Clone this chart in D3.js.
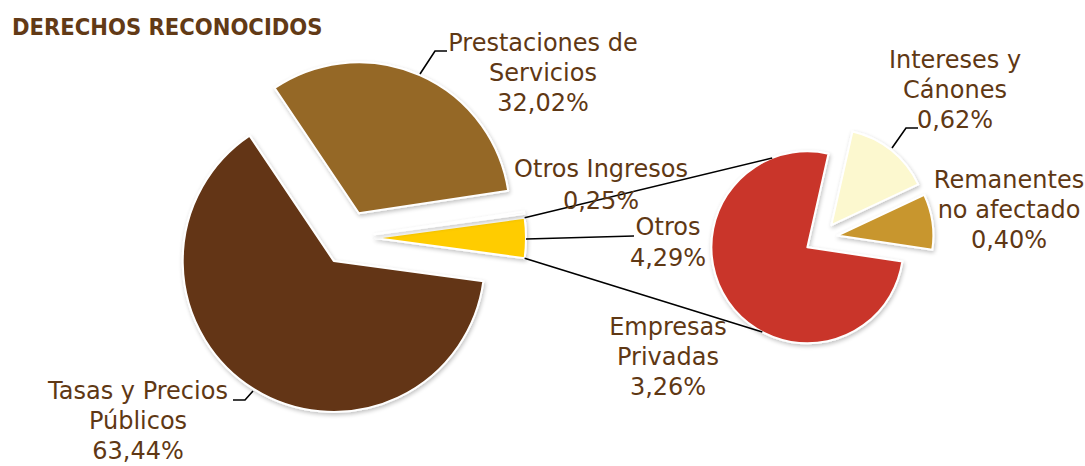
<!DOCTYPE html>
<html>
<head>
<meta charset="utf-8">
<script src="https://cdn.jsdelivr.net/npm/d3@7"></script>
<style>
  body { margin: 0; background: #fff; }
  svg { display: block; }
  text { font-family: 'DejaVu Sans', sans-serif; fill: #5f3814; }
</style>
</head>
<body>
<script>
// Main pie: order is clockwise starting at the "Otros" slice (which is broken out)
var mainNames = ['Otros', 'Tasas y Precios Públicos', 'Prestaciones de Servicios', 'Otros Ingresos'];
var mainValues = [4.29, 63.44, 32.02, 0.25];
var mainColors = ['#ffcc00', '#633514', '#956828', '#f1efee'];

// Secondary pie: breakdown of "Otros"
var subNames = ['Empresas Privadas', 'Intereses y Cánones', 'Remanentes no afectado'];
var subValues = [3.26, 0.62, 0.40];
var subColors = ['#c93629', '#fcf8cf', '#c8962e'];

// Label text, line by line
var labelLines = {
    'Prestaciones de Servicios': ['Prestaciones de', 'Servicios', '32,02%'],
    'Tasas y Precios Públicos': ['Tasas y Precios', 'Públicos', '63,44%'],
    'Otros Ingresos': ['Otros Ingresos', '0,25%'],
    'Otros': ['Otros', '4,29%'],
    'Empresas Privadas': ['Empresas', 'Privadas', '3,26%'],
    'Intereses y Cánones': ['Intereses y', 'Cánones', '0,62%'],
    'Remanentes no afectado': ['Remanentes', 'no afectado', '0,40%']
};

var width = 1085, height = 466;
var rad = Math.PI / 180;

var svg = d3.select('body')
  .append('svg')
    .attr('width', width)
    .attr('height', height);

// soft drop shadow under the slices
var shadow = svg.append('defs')
  .append('filter')
    .attr('id', 'shadow')
    .attr('x', '-20%').attr('y', '-20%')
    .attr('width', '140%').attr('height', '140%');
shadow.append('feGaussianBlur')
    .attr('in', 'SourceAlpha')
    .attr('stdDeviation', 2.2);
shadow.append('feOffset').attr('dx', 1).attr('dy', 1.5);
shadow.append('feComponentTransfer')
  .append('feFuncA').attr('type', 'linear').attr('slope', 0.25);
var merge = shadow.append('feMerge');
merge.append('feMergeNode');
merge.append('feMergeNode').attr('in', 'SourceGraphic');

svg.append('text')
    .attr('x', 12)
    .attr('y', 35)
    .attr('font-size', 23.5)
    .attr('font-weight', 'bold')
    .style('font-family', "'DejaVu Sans Condensed', 'DejaVu Sans', sans-serif")
    .style('fill', '#623a16')
    .text('DERECHOS RECONOCIDOS');

// Geometry of both pies
var main = { cx: 348, cy: 238, r: 151, explode: 27 };
var sub = { cx: 821, cy: 238, r: 96, explode: 16.5 };

var mainPie = d3.pie()
    .sort(null)
    .value(function(d) { return d.value; })
    .startAngle((90 - mainValues[0] * 3.6 / 2) * rad)
    .endAngle((450 - mainValues[0] * 3.6 / 2) * rad);

var subPie = d3.pie()
    .sort(null)
    .value(function(d) { return d.value; })
    .startAngle(98.5 * rad)
    .endAngle(458.5 * rad);

var offset = function(d, amount) {
    var mid = (d.startAngle + d.endAngle) / 2;
    return [Math.sin(mid) * amount, -Math.cos(mid) * amount];
};

var drawPie = function(geo, pie, values, colors, names) {
    var arc = d3.arc().innerRadius(0).outerRadius(geo.r);
    var data = pie(values.map(function(v, i) {
        return { value: v, name: names[i], color: colors[i] };
    }));
    var g = svg.append('g')
        .attr('transform', 'translate(' + geo.cx + ',' + geo.cy + ')');
    g.selectAll('path')
      .data(data)
      .enter()
      .append('path')
        .attr('transform', function(d) {
            var o = offset(d, geo.explode);
            return 'translate(' + o[0] + ',' + o[1] + ')';
        })
        .attr('d', arc)
        .attr('fill', function(d) { return d.data.color; })
        .attr('stroke', '#fff')
        .attr('stroke-width', 2)
        .attr('stroke-linejoin', 'round')
        .attr('filter', 'url(#shadow)');
    return data;
};

var mainArcs = drawPie(main, mainPie, mainValues, mainColors, mainNames);
var subArcs = drawPie(sub, subPie, subValues, subColors, subNames);

// Connector lines between the "Otros" slice and the secondary pie
var otros = mainArcs[0];
var otrosOff = offset(otros, main.explode);
var corner = function(angle) {
    return [main.cx + otrosOff[0] + Math.sin(angle) * main.r,
            main.cy + otrosOff[1] - Math.cos(angle) * main.r];
};
var red = subArcs[0];
var redOff = offset(red, sub.explode);
var onRed = function(deg) {
    return [sub.cx + redOff[0] + Math.sin(deg * rad) * sub.r,
            sub.cy + redOff[1] - Math.cos(deg * rad) * sub.r];
};
var connectors = [
    [corner(otros.startAngle), onRed(338.5)],
    [corner(otros.endAngle), onRed(208)]
];
svg.selectAll('line.connector')
  .data(connectors)
  .enter()
  .append('line')
    .attr('class', 'connector')
    .attr('x1', function(d) { return d[0][0]; })
    .attr('y1', function(d) { return d[0][1]; })
    .attr('x2', function(d) { return d[1][0]; })
    .attr('y2', function(d) { return d[1][1]; })
    .attr('stroke', '#000')
    .attr('stroke-width', 1.6);

// Leader lines
var leaders = [
    [[420, 74], [435, 51], [447, 51]],
    [[892, 148], [906, 128], [918, 128]],
    [[233, 400], [245, 400], [253, 391]],
    [[526, 239], [634, 236]]
];
svg.selectAll('path.leader')
  .data(leaders)
  .enter()
  .append('path')
    .attr('class', 'leader')
    .attr('d', d3.line())
    .attr('fill', 'none')
    .attr('stroke', '#000')
    .attr('stroke-width', 1.6);

// Data labels
var labelPos = [
    { name: 'Prestaciones de Servicios', x: 543, y: 51 },
    { name: 'Tasas y Precios Públicos', x: 138, y: 399 },
    { name: 'Otros Ingresos', x: 601, y: 177, dy: 31.5 },
    { name: 'Otros', x: 668, y: 235, dy: 31 },
    { name: 'Empresas Privadas', x: 668, y: 335 },
    { name: 'Intereses y Cánones', x: 955, y: 68 },
    { name: 'Remanentes no afectado', x: 1009, y: 188 }
];
var labels = svg.selectAll('text.label')
  .data(labelPos)
  .enter()
  .append('text')
    .attr('class', 'label')
    .attr('font-size', 24)
    .attr('text-anchor', 'middle');
labels.selectAll('tspan')
  .data(function(d) {
      return labelLines[d.name].map(function(line, i) {
          return { text: line, x: d.x, y: d.y + i * (d.dy || 30) };
      });
  })
  .enter()
  .append('tspan')
    .attr('x', function(d) { return d.x; })
    .attr('y', function(d) { return d.y; })
    .text(function(d) { return d.text; });
</script>
</body>
</html>
